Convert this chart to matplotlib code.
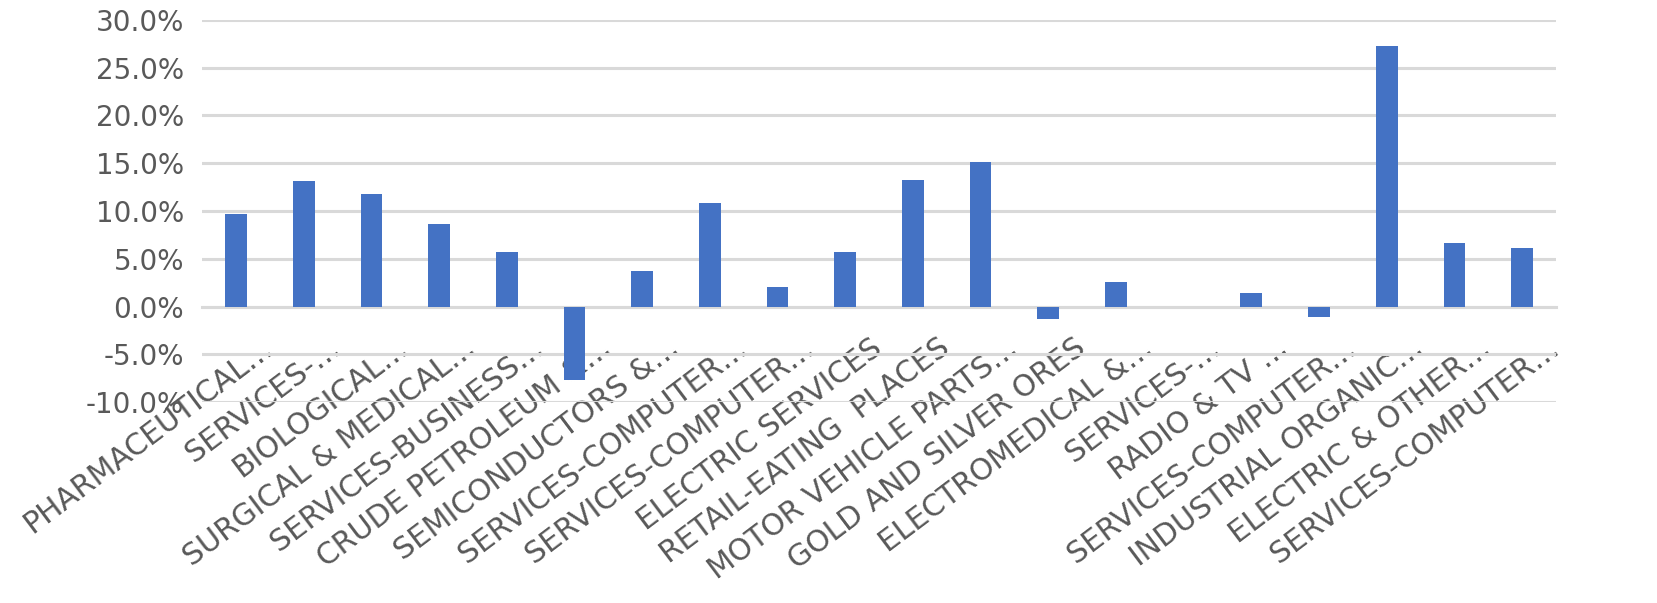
import matplotlib.pyplot as plt
from matplotlib.ticker import FuncFormatter
from matplotlib.transforms import ScaledTranslation
import numpy as np

plt.rcParams['font.family'] = ['DejaVu Sans']

# Категорії та значення
categories = [
    "PHARMACEUTICAL…", "SERVICES-…", "BIOLOGICAL…", "SURGICAL & MEDICAL…",
    "SERVICES-BUSINESS…", "CRUDE PETROLEUM &…", "SEMICONDUCTORS &…",
    "SERVICES-COMPUTER…", "SERVICES-COMPUTER…", "ELECTRIC SERVICES",
    "RETAIL-EATING  PLACES", "MOTOR VEHICLE PARTS…", "GOLD AND SILVER ORES",
    "ELECTROMEDICAL &…", "SERVICES-…", "RADIO & TV …", "SERVICES-COMPUTER…",
    "INDUSTRIAL ORGANIC…", "ELECTRIC & OTHER…", "SERVICES-COMPUTER…",
]
values = [9.7, 13.1, 11.8, 8.6, 5.75, -7.7, 3.7, 10.8, 2.1, 5.75,
          13.3, 15.1, -1.25, 2.55, 0.0, 1.45, -1.07, 27.3, 6.66, 6.1]
y_ticks = [-10, -5, 0, 5, 10, 15, 20, 25, 30]

grey = '#595959'

fig = plt.figure(figsize=(16.57, 6.03), dpi=100)
ax = fig.add_axes([0.122, 0.333, 0.817, 0.634])

x = np.arange(len(categories))
ax.bar(x, values, width=0.32, color='#4472C4', zorder=3)

ax.set_xlim(-0.5, len(categories) - 0.5)
ax.set_ylim(-10, 30)
ax.set_yticks(y_ticks)
ax.yaxis.set_major_formatter(FuncFormatter(lambda v, p: f"{v:.1f}%"))
ax.grid(axis='y', color='#d9d9d9', linewidth=2.2, zorder=0)

for s in ['top', 'right', 'left']:
    ax.spines[s].set_visible(False)
ax.spines['bottom'].set_position(('data', 0))
ax.spines['bottom'].set_color('#d9d9d9')
ax.spines['bottom'].set_linewidth(2.2)

ax.set_xticks(x)
ax.set_xticklabels(categories, rotation=37, ha='right', rotation_mode='anchor',
                   fontsize=21.5, color=grey)
ax.tick_params(axis='x', length=0, pad=19)
ax.tick_params(axis='y', length=0, labelsize=20, labelcolor=grey, pad=13)

# зсув підписів праворуч, як в Excel
shift = ScaledTranslation(0.25, 0, fig.dpi_scale_trans)
for lbl in ax.get_xticklabels():
    lbl.set_transform(lbl.get_transform() + shift)

fig.savefig('out.png', dpi=100)
